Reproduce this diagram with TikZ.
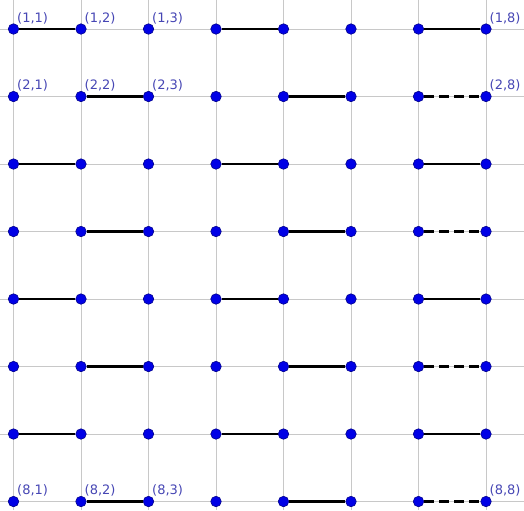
\documentclass[tikz,border=0pt]{standalone}
\usepackage{fontspec}
\setmainfont{DejaVu Sans}
\usetikzlibrary{positioning}
\definecolor{GridGray}{HTML}{C8C8C8}
\definecolor{DotBlue}{HTML}{0000E6}
\definecolor{DotRim}{HTML}{00008C}
\definecolor{TagBlue}{HTML}{4646B4}
\tikzset{
  gridpt/.style={circle,fill=DotBlue,draw=DotRim,line width=0.6pt,
                 minimum size=10.5pt,inner sep=0pt},
  ptlabel/.style={anchor=south west,inner sep=0pt,xshift=3.5pt,yshift=5pt,
                  font=\fontsize{13}{14}\selectfont,text=TagBlue},
  pairline/.style={black,line width=2.3pt},
  halfline/.style={pairline,dash pattern=on 10pt off 5pt}
}
\newcommand{\pointtag}[2]{%
  \node[ptlabel] (t-#1-#2) at (p-#1-#2) {(#1,#2)};
}
\begin{document}
\begin{tikzpicture}[x=67.5pt,y=67.5pt]
  \useasboundingbox (-0.2,-0.126) rectangle (7.563,7.43);
  \foreach \i in {0,...,7}{
    \draw[GridGray,line width=0.8pt] (\i,-0.126) -- (\i,7.43);
    \draw[GridGray,line width=0.8pt] (-0.2,\i) -- (7.563,\i);
  }
  \foreach \r in {1,...,8}{
    \foreach \c in {1,...,8}{
      \node[gridpt] (p-\r-\c) at ({\c-1},{8-\r}) {};
    }
  }
  \foreach \r in {1,3,5,7}{
    \draw[pairline] (p-\r-1) -- (p-\r-2);
    \draw[pairline] (p-\r-4) -- (p-\r-5);
    \draw[pairline] (p-\r-7) -- (p-\r-8);
  }
  \foreach \r in {2,4,6,8}{
    \draw[pairline] (p-\r-2) -- (p-\r-3);
    \draw[pairline] (p-\r-5) -- (p-\r-6);
    \draw[halfline] (p-\r-7) -- (p-\r-8);
  }
  \foreach \r in {1,2,8}{
    \foreach \c in {1,2,3,8}{
      \pointtag{\r}{\c}
    }
  }
\end{tikzpicture}
\end{document}
